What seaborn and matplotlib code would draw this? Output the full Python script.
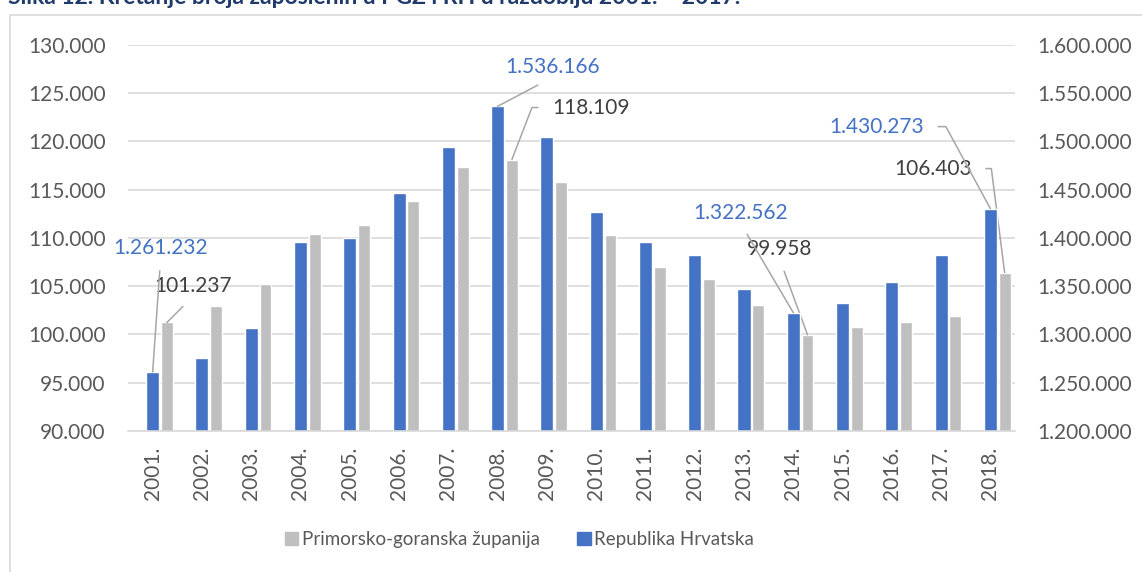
import numpy as np
import pandas as pd
import matplotlib
matplotlib.use("Agg")
import matplotlib.pyplot as plt
from matplotlib.patches import Patch, Rectangle
from matplotlib.ticker import FuncFormatter, MultipleLocator
import seaborn as sns

sns.set_theme(style="white")
plt.rcParams['font.family'] = ['Lato', 'DejaVu Sans']

# data
years = [2001, 2002, 2003, 2004, 2005, 2006, 2007, 2008, 2009,
         2010, 2011, 2012, 2013, 2014, 2015, 2016, 2017, 2018]
pgz = [101237, 102940, 105250, 110360, 111300, 113850, 117340, 118109, 115750,
       110290, 106950, 105740, 103050, 99958, 100800, 101250, 101940, 106403]
rh = [1261232, 1275300, 1307000, 1396000, 1400100, 1446100, 1494400, 1536166, 1504700,
      1427100, 1395400, 1382500, 1347000, 1322562, 1332200, 1354300, 1382200, 1430273]
year_labels = [f"{y}." for y in years]
pgz_name = "Primorsko-goranska županija"
rh_name = "Republika Hrvatska"
title = "Slika 12. Kretanje broja zaposlenih u PGŽ i RH u razdoblju 2001. – 2017."

# labelled points: (year, text offset in pixels, angle of the leader line end)
rh_notes = [(2001, (8, 124), None), (2008, (55, 39), None),
            (2014, (-53, 100), None), (2018, (-114, 82), 118.5)]
pgz_notes = [(2001, (26, 36), None), (2008, (79, 52), 68.9),
             (2014, (-28, 86), None), (2018, (-72, 104), 97.3)]

BLUE = "#4472C4"
GRAY = "#BFBFBF"
GRID = "#D9D9D9"
TXT = "#595959"

df = pd.DataFrame({"year": years, "pgz": pgz, "rh": rh})
df["pgz_pos"] = df["year"] + 0.29


def fmt(v):
    return f"{int(round(v)):,}".replace(",", ".")


fig = plt.figure(figsize=(11.42, 5.72), dpi=100)
ax1 = fig.add_axes([0.1121, 0.2465, 0.7767, 0.6754])
ax2 = ax1.twinx()

sns.barplot(data=df, x="pgz_pos", y="pgz", native_scale=True, orient="x",
            width=0.24, color=GRAY, saturation=1, ax=ax1)
sns.barplot(data=df, x="year", y="rh", native_scale=True, orient="x",
            width=0.265, color=BLUE, saturation=1, ax=ax2)

ax1.set_xlim(2000.5, 2018.5)
ax1.set_ylim(90000, 130000)
ax2.set_ylim(1200000, 1600000)
ax1.yaxis.set_major_locator(MultipleLocator(5000))
ax2.yaxis.set_major_locator(MultipleLocator(50000))
for ax in (ax1, ax2):
    ax.yaxis.set_major_formatter(FuncFormatter(lambda v, p: fmt(v)))
    ax.set_xlabel("")
    ax.set_ylabel("")
    for s in ax.spines.values():
        s.set_visible(False)
ax2.spines["bottom"].set_visible(True)
ax2.spines["bottom"].set_color(GRID)
ax2.spines["bottom"].set_linewidth(1.2)
ax1.grid(axis="y", color=GRID, linewidth=1.2)
ax1.set_axisbelow(True)

ax1.set_xticks(years, year_labels, rotation=90)
ax1.tick_params(axis="x", length=0, pad=11, labelsize=15, labelcolor=TXT)
ax1.tick_params(axis="y", length=0, pad=16, labelsize=15, labelcolor=TXT)
ax2.tick_params(axis="y", length=0, pad=16, labelsize=15, labelcolor=TXT)


def note(ax, x, y, text, off, color, angle):
    if angle is None:
        rel = (0.5, 0.0)
        cs = "arc3"
        shrink = 7
    else:
        rel = (0.0, 0.5) if off[0] > 0 else (1.0, 0.5)
        cs = f"angle,angleA=0,angleB={angle},rad=0"
        shrink = 8
    ax.annotate(text, xy=(x, y), xytext=off, textcoords="offset pixels",
                ha="center", va="center", fontsize=15, color=color,
                arrowprops=dict(arrowstyle="-", color="#A6A6A6", lw=1.1,
                                shrinkA=shrink, shrinkB=0, relpos=rel,
                                connectionstyle=cs))


for yr, off, ang in rh_notes:
    row = df[df["year"] == yr].iloc[0]
    note(ax2, row["year"], row["rh"], fmt(row["rh"]), off, BLUE, ang)
for yr, off, ang in pgz_notes:
    row = df[df["year"] == yr].iloc[0]
    note(ax1, row["pgz_pos"], row["pgz"], fmt(row["pgz"]), off, "#404040", ang)

handles = [Patch(color=GRAY, label=pgz_name), Patch(color=BLUE, label=rh_name)]
fig.legend(handles=handles, loc="center", bbox_to_anchor=(0.455, 0.056), ncol=2,
           frameon=False, fontsize=13.5, labelcolor=TXT, handlelength=0.7,
           handleheight=0.7, handletextpad=0.2, columnspacing=2.0)

# chart frame and the caption above it, cut by the top edge as in the source
fig.patches.append(Rectangle((10 / 1142, -0.1), 1.2, 1.1 - 15 / 572,
                             transform=fig.transFigure, fill=False,
                             edgecolor=GRID, linewidth=1.2))
fig.text(8 / 1142, 1 - 4 / 572, title, ha="left", va="baseline", fontsize=16.5,
         fontweight="bold", color="#1F3A6B")

fig.savefig("out.png", dpi=100)
